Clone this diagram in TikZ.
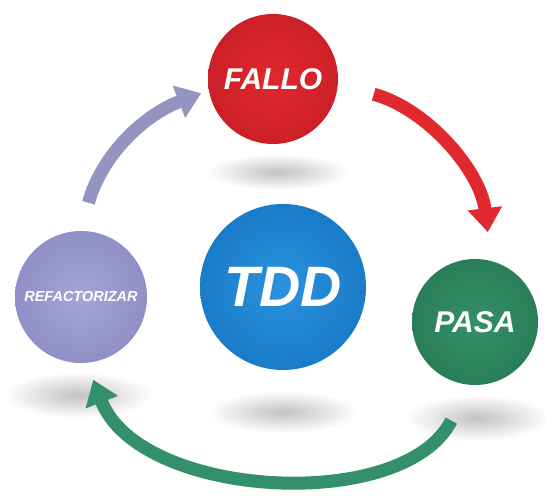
\documentclass[tikz,border=0pt]{standalone}
\usepackage{fontspec}
\setmainfont{Liberation Sans}
\usepackage{xcolor}
\usetikzlibrary{arrows.meta}

\definecolor{rojo}{HTML}{E0282E}
\definecolor{rojoosc}{HTML}{CC2026}
\definecolor{azul}{HTML}{2A92DE}
\definecolor{azulosc}{HTML}{1A7CC8}
\definecolor{verde}{HTML}{33906A}
\definecolor{verdeosc}{HTML}{297E58}
\definecolor{lila}{HTML}{A4A4D6}
\definecolor{lilaosc}{HTML}{9090C8}

\begin{document}
\begin{tikzpicture}[x=1pt,y=1pt,
    bola/.style={circle,inner sep=0pt,shading=radial,text=white,font=\bfseries\itshape},
    sombra/.style={inner color=black!24,outer color=white},
    flecha/.style={line width=13pt,-{Triangle[width=33pt,length=24pt]}}]
  \useasboundingbox (0,0) rectangle (545,495);
  % sombras
  \shade[sombra] (278,323) ellipse [x radius=72pt,y radius=18pt];
  \shade[sombra] (283,83) ellipse [x radius=76pt,y radius=21pt];
  \shade[sombra] (78,100) ellipse [x radius=74pt,y radius=23pt];
  \shade[sombra] (478,77) ellipse [x radius=72pt,y radius=23pt];
  % bolas
  \node[bola,minimum size=166pt,inner color=azul,outer color=azulosc,font=\fontsize{57}{60}\selectfont\bfseries\itshape] (tdd) at (283,208) {TDD};
  \node[bola,minimum size=130pt,inner color=rojo,outer color=rojoosc,font=\fontsize{30}{34}\selectfont\bfseries\itshape] (fallo) at (273,416) {FALLO};
  \node[bola,minimum size=132pt,inner color=lila,outer color=lilaosc,font=\fontsize{14.5}{16}\selectfont\bfseries\itshape] (refac) at (81,198) {REFACTORIZAR};
  \node[bola,minimum size=126pt,inner color=verde,outer color=verdeosc,font=\fontsize{30}{34}\selectfont\bfseries\itshape] (pasa) at (475,173) {PASA};
  % ciclo
  \draw[flecha,rojo,shorten <=37pt,shorten >=29pt] (fallo.-5) to[out=-15,in=97] (pasa.75);
  \draw[flecha,verde,shorten <=40pt,shorten >=18pt] (pasa.-95) to[out=-117,in=-69,looseness=0.97] (refac.-85);
  \draw[flecha,lila!90!black,shorten <=29pt,shorten >=8pt] (refac.north) to[out=75,in=201] (fallo.190);
\end{tikzpicture}
\end{document}
